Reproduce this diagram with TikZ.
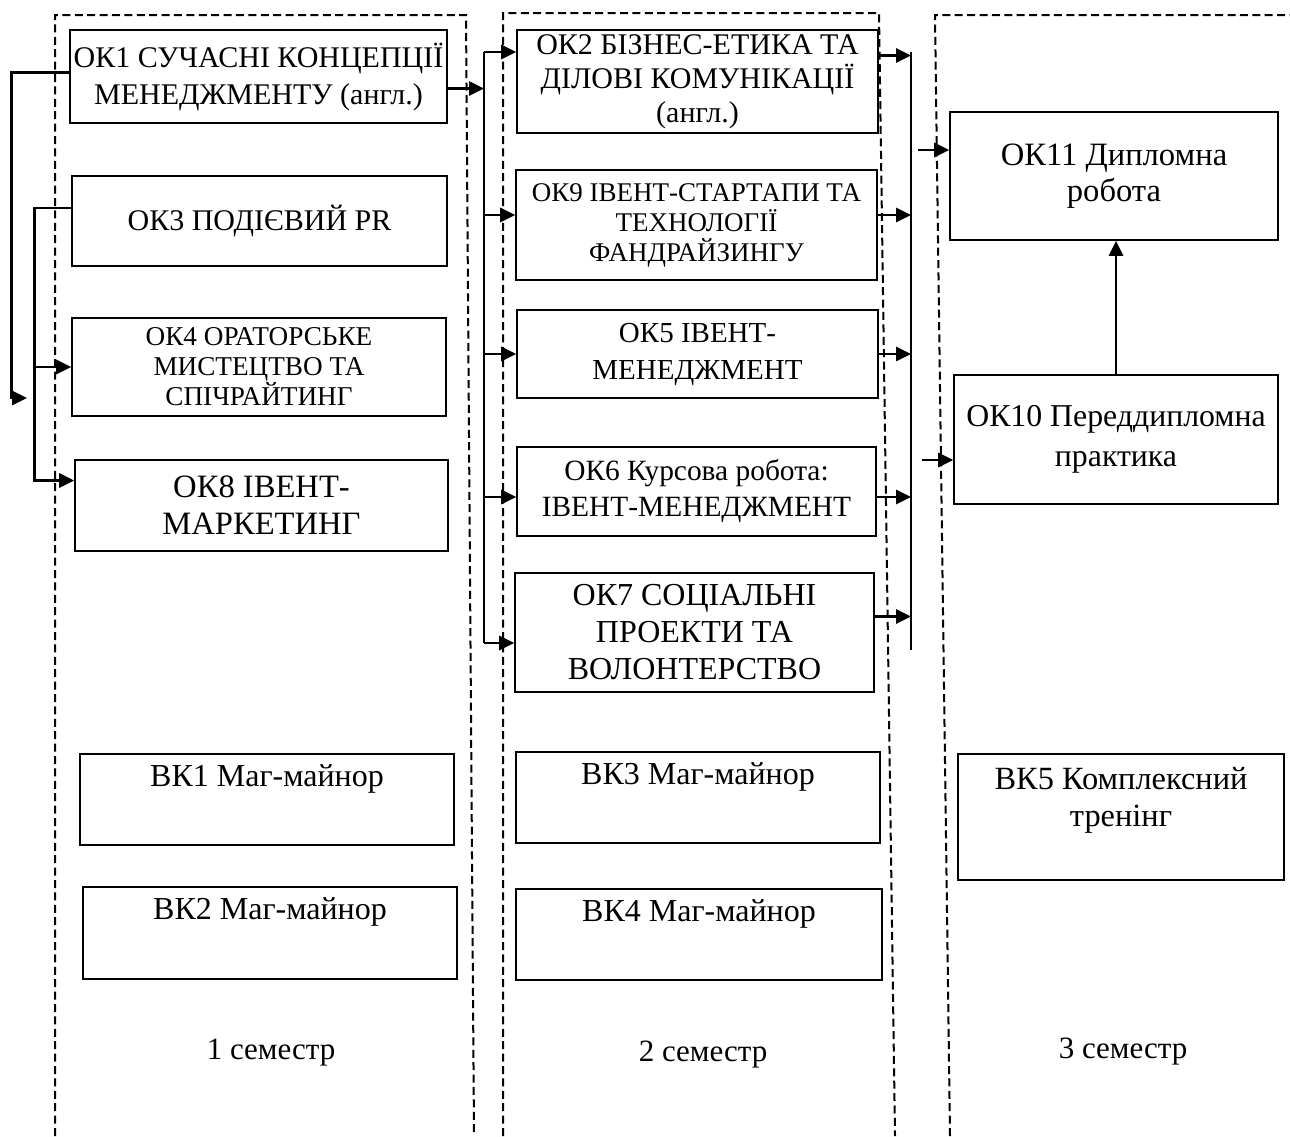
\documentclass[tikz,border=0pt]{standalone}
\usepackage{fontspec}
\setmainfont{Liberation Serif}
\usetikzlibrary{arrows.meta}
\begin{document}
\begin{tikzpicture}[x=0.5pt,y=-0.5pt,>={Triangle[length=7.5pt,width=7pt]},
  kurs/.style={draw,line width=0.8pt,align=center,inner sep=1pt},
  sz/.style 2 args={minimum width=#1*0.5pt,minimum height=#2*0.5pt},
  fs/.style 2 args={font=\fontsize{#1}{#2}\selectfont},
  verh/.style={anchor=north,align=center,yshift=-2pt,fs={16}{18.5}},
  kol/.style={dash pattern=on 4pt off 2.2pt,line width=1pt},
  zv/.style={->,line width=1.4pt}]
  \useasboundingbox (0,0) rectangle (1290,1136);
  \draw [kol] (55,1136) -- (55,15) -- (466,15) -- (474,1136);
  \draw [kol] (503,1136) -- (503,13) -- (879,13) -- (895,1136);
  \draw [kol] (950,1136) -- (935,15) -- (1290,15);
  \node [kurs,sz={377}{93},fs={15}{18.5}] (ok1) at (258.5,76.5) {ОК1 СУЧАСНІ КОНЦЕПЦІЇ\\МЕНЕДЖМЕНТУ (англ.)};
  \node [kurs,sz={375}{90},fs={15}{18}] (ok3) at (259.5,221) {ОК3 ПОДІЄВИЙ PR};
  \node [kurs,sz={374}{98},fs={13.6}{15}] (ok4) at (259,367) {ОК4 ОРАТОРСЬКЕ\\МИСТЕЦТВО ТА\\СПІЧРАЙТИНГ};
  \node [kurs,sz={373}{91},fs={16.3}{18.5}] (ok8) at (261.5,505.5) {ОК8 ІВЕНТ-\\МАРКЕТИНГ};
  \node [kurs,sz={374}{91},label={[verh]north:ВК1 Маг-майнор}] (vk1) at (267,799.5) {};
  \node [kurs,sz={374}{92},label={[verh]north:ВК2 Маг-майнор}] (vk2) at (270,933) {};
  \node [kurs,sz={361}{103},fs={15}{17}] (ok2) at (697.5,81.5) {ОК2 БІЗНЕС-ЕТИКА ТА\\ДІЛОВІ КОМУНІКАЦІЇ\\(англ.)};
  \node [kurs,sz={361}{110},fs={13.5}{15}] (ok9) at (696.5,225) {ОК9 ІВЕНТ-СТАРТАПИ ТА\\ТЕХНОЛОГІЇ\\ФАНДРАЙЗИНГУ};
  \node [kurs,sz={361}{88},fs={14.5}{18.5}] (ok5) at (697.5,354) {ОК5 ІВЕНТ-\\МЕНЕДЖМЕНТ};
  \node [kurs,sz={359}{89},fs={14.7}{18}] (ok6) at (696.5,491.5) {ОК6 Курсова робота:\\ІВЕНТ-МЕНЕДЖМЕНТ};
  \node [kurs,sz={359}{119},fs={16}{18.5}] (ok7) at (694.5,632.5) {ОК7 СОЦІАЛЬНІ\\ПРОЕКТИ ТА\\ВОЛОНТЕРСТВО};
  \node [kurs,sz={364}{91},label={[verh]north:ВК3 Маг-майнор}] (vk3) at (698,797.5) {};
  \node [kurs,sz={366}{91},label={[verh]north:ВК4 Маг-майнор}] (vk4) at (699,934.5) {};
  \node [kurs,sz={328}{128},fs={16.3}{18}] (ok11) at (1114,176) {ОК11 Дипломна\\робота};
  \node [kurs,sz={324}{129},fs={15.9}{20}] (ok10) at (1116,439.5) {ОК10 Переддипломна\\практика};
  \node [kurs,sz={326}{126},label={[verh,yshift=-1.5pt,fs={16.2}{18.5}]north:{ВК5 Комплексний\\тренінг}}] (vk5) at (1121,817) {};
  \node [fs={15.5}{18}] (s1) at (271,1053) {1 семестр};
  \node [fs={15.5}{18}] (s2) at (703,1055) {2 семестр};
  \node [fs={15.5}{18}] (s3) at (1123,1052) {3 семестр};
  \coordinate (p1) at (27,398);
  \draw [zv] ([yshift=2pt]ok1.west) -- ++(-58,0) |- (p1);
  \coordinate (a8) at ([yshift=12.5pt]ok8.west);
  \draw [zv] ([yshift=6.5pt]ok3.west) -- ++(-37,0) coordinate (l2) |- (a8);
  \draw [zv] (ok4.west -| l2) -- (ok4.west);
  \coordinate (m2) at (484,52);
  \coordinate (m7) at (484,643);
  \coordinate (a1) at ([yshift=-6pt]ok1.east);
  \coordinate (a9) at ([yshift=5pt]ok9.west);
  \coordinate (a6) at ([yshift=-2.75pt]ok6.west);
  \draw [line width=1.4pt] (m2) -- (m7);
  \draw [zv] (a1) -- (a1 -| m2);
  \draw [zv] (m2) -- (m2 -| ok2.west);
  \draw [zv] (a9 -| m2) -- (a9);
  \draw [zv] (ok5.west -| m2) -- (ok5.west);
  \draw [zv] (a6 -| m2) -- (a6);
  \draw [zv] (m7) -- (m7 -| ok7.west);
  \coordinate (r2) at (911,52);
  \coordinate (r7) at (911,650);
  \coordinate (b2) at ([yshift=13pt]ok2.east);
  \coordinate (b9) at ([yshift=5pt]ok9.east);
  \coordinate (b6) at ([yshift=-2.75pt]ok6.east);
  \coordinate (b7) at ([yshift=8pt]ok7.east);
  \draw [line width=1.4pt] (r2) -- (r7);
  \draw [zv] (b2) -- (b2 -| r2);
  \draw [zv] (b9) -- (b9 -| r2);
  \draw [zv] (ok5.east) -- (ok5.east -| r2);
  \draw [zv] (b6) -- (b6 -| r2);
  \draw [zv] (b7) -- (b7 -| r2);
  \coordinate (q1) at (918,150);
  \coordinate (q2) at (922,460);
  \draw [zv] (q1) -- (q1 -| ok11.west);
  \draw [zv] (q2) -- (q2 -| ok10.west);
  \draw [zv] (ok10.north) -- (ok10.north |- ok11.south);
\end{tikzpicture}
\end{document}
